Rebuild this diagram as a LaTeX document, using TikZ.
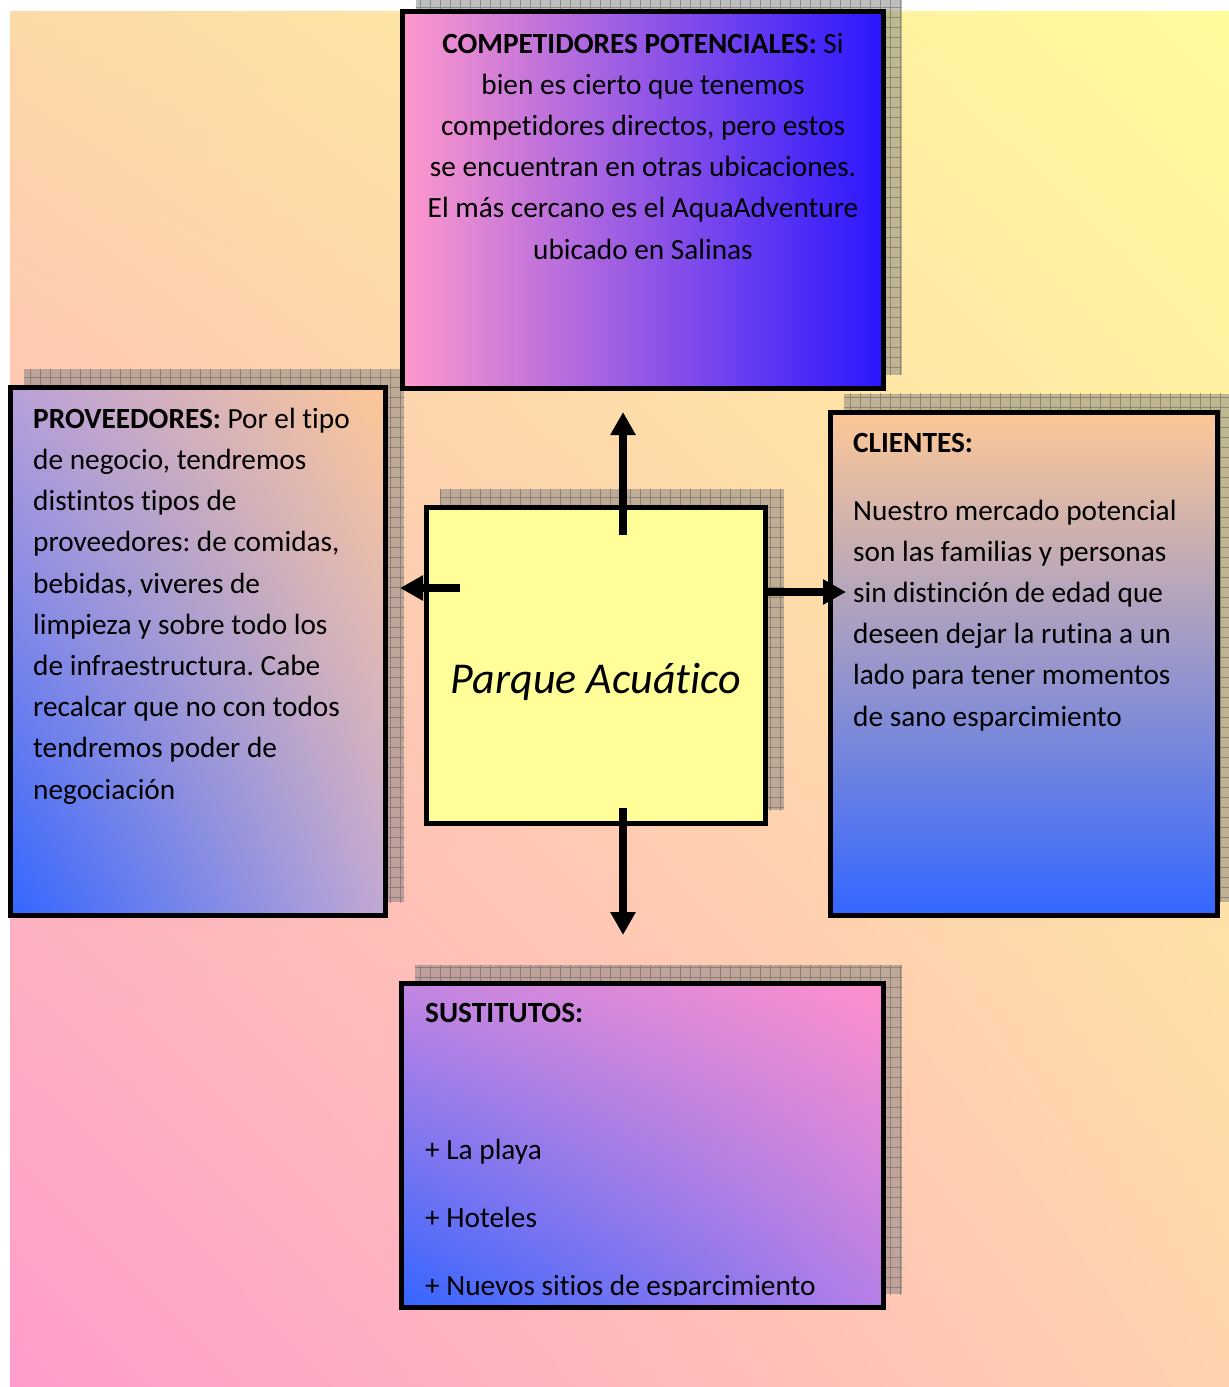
\documentclass[tikz,border=0pt]{standalone}
\usepackage{fontspec}
\setmainfont[Ligatures=NoCommon]{Carlito}
\frenchspacing
\usetikzlibrary{arrows.meta, positioning, calc, backgrounds, patterns.meta, shadings}
\definecolor{fondoA}{RGB}{253,217,168}
\definecolor{fondoB}{RGB}{255,252,156}
\definecolor{fondoC}{RGB}{255,156,204}
\definecolor{fondoD}{RGB}{255,211,173}
\definecolor{rosa}{RGB}{255,153,204}
\definecolor{rosaB}{RGB}{255,144,204}
\definecolor{lila}{RGB}{200,126,224}
\definecolor{lilaA}{RGB}{185,160,217}
\definecolor{lilaB}{RGB}{194,168,212}
\definecolor{lilaC}{RGB}{184,162,216}
\definecolor{lilaD}{RGB}{195,133,226}
\definecolor{lilaE}{RGB}{181,127,230}
\definecolor{azul}{RGB}{51,102,255}
\definecolor{azulB}{RGB}{42,22,255}
\definecolor{naranja}{RGB}{253,200,150}
\definecolor{amarillo}{RGB}{255,255,153}

\begin{document}
\begin{tikzpicture}[
    x=1pt, y=-1pt,
    caja/.style={draw, line width=5pt, inner sep=0pt},
    texto/.style={inner sep=0pt, font=\fontsize{29.3}{41.2}\selectfont, align=left},
    sombra/.style={fill=gray, fill opacity=0.5},
    rejilla/.style={pattern={Hatch[angle=0, distance=10pt, line width=0.7pt]}, pattern color=gray!70!black, opacity=0.5},
    flecha/.style={line width=7.5pt, -{Triangle[width=24pt, length=23pt]}}
]
\useasboundingbox (0,0) rectangle (1229,1387);

% cajas
\node[caja, minimum width=481pt, minimum height=377pt, left color=rosa, middle color=lila, right color=azulB] (comp) at (642.5,199.5) {};
\node[caja, minimum width=375pt, minimum height=528pt, upper left=lilaA, upper right=naranja, lower left=azul, lower right=lilaB] (prov) at (198,651.5) {};
\node[caja, minimum width=339pt, minimum height=316pt, fill=amarillo] (park) at (596,665.5) {};
\node[caja, minimum width=387pt, minimum height=503pt, top color=naranja, middle color=lilaC, bottom color=azul] (cli) at (1024,663.5) {};
\node[caja, minimum width=482pt, minimum height=324pt, upper left=lilaD, upper right=rosaB, lower left=azul, lower right=lilaE] (sust) at (642.5,1145.5) {};

% fondo y sombras
\begin{scope}[on background layer]
\shade[upper left=fondoA, upper right=fondoB, lower left=fondoC, lower right=fondoD] (10,11) rectangle (1229,1387);
\foreach \n in {comp, prov, park, cli, sust} {
    \path[sombra] ([shift={(16,-16)}]\n.south west) rectangle ([shift={(16,-16)}]\n.north east);
    \path[rejilla] ([shift={(16,-16)}]\n.south west) rectangle ([shift={(16,-16)}]\n.north east);
}
\end{scope}

% textos (base = ultima linea)
\node[texto, align=center, anchor=base] (compTxt) at (643,259) {\textbf{COMPETIDORES POTENCIALES:} Si\\bien es cierto que tenemos\\competidores directos, pero estos\\se encuentran en otras ubicaciones.\\El más cercano es el AquaAdventure\\ubicado en Salinas};
\node[texto, anchor=base west] (provTxt) at (33,799) {\textbf{PROVEEDORES:} Por el tipo\\de negocio, tendremos\\distintos tipos de\\proveedores: de comidas,\\bebidas, viveres de\\limpieza y sobre todo los\\de infraestructura. Cabe\\recalcar que no con todos\\tendremos poder de\\negociación};
\node[texto, anchor=base west] (cliTxt) at (853,726) {\textbf{CLIENTES:}\\[26.8pt]Nuestro mercado potencial\\son las familias y personas\\sin distinción de edad que\\deseen dejar la rutina a un\\lado para tener momentos\\de sano esparcimiento};
\begin{scope}
\clip (404,986) rectangle (881,1295);
\node[texto, anchor=base west] (sustTxt) at (425,1295) {\textbf{SUSTITUTOS:}\\[95.8pt]+ La playa\\[26.8pt]+ Hoteles\\[26.8pt]+ Nuevos sitios de esparcimiento};
\end{scope}
\node[inner sep=0pt, anchor=base, font=\fontsize{44}{50}\selectfont\itshape] (parkTxt) at (596,693) {Parque Acuático};

% flechas
\coordinate (upA) at (623,535);
\coordinate (upB) at (623,412);
\coordinate (izA) at (460,588);
\coordinate (izB) at (400,588);
\coordinate (deA) at (763,592);
\coordinate (deB) at (846,592);
\coordinate (abA) at (623,808);
\coordinate (abB) at (623,935);
\draw[flecha] (upA) -- (upB);
\draw[flecha] (izA) -- (izB);
\draw[flecha] (deA) -- (deB);
\draw[flecha] (abA) -- (abB);

\end{tikzpicture}
\end{document}
